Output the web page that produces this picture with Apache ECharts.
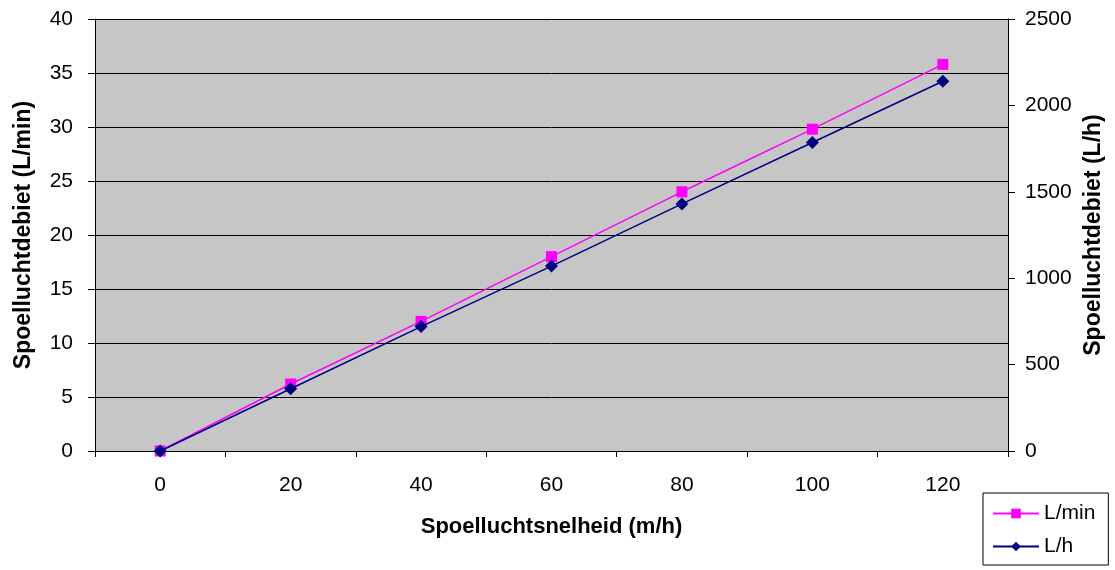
<!DOCTYPE html>
<html>
<head>
<meta charset="utf-8">
<title>Spoelluchtdebiet</title>
<script src="https://cdn.jsdelivr.net/npm/echarts@6/dist/echarts.min.js"></script>
<style>
  html, body { margin: 0; padding: 0; background: #ffffff; }
  #chart { width: 1115px; height: 570px; }
</style>
</head>
<body>
<div id="chart"></div>
<script>
// Spoelluchtsnelheid (m/h)
const speeds = ['0', '20', '40', '60', '80', '100', '120'];
// Spoelluchtdebiet in L/min (left axis)
const flowLmin = [0, 6.2, 12, 18, 24, 29.8, 35.8];
// Spoelluchtdebiet in L/h (right axis)
const flowLh = [0, 360, 720, 1070, 1430, 1785, 2140];

const font = 'Liberation Sans, Arial, sans-serif';
const black = '#000000';

const chart = echarts.init(document.getElementById('chart'), null, { renderer: 'canvas' });

chart.setOption({
  animation: false,
  backgroundColor: '#ffffff',
  textStyle: { fontFamily: font, color: black },
  grid: {
    left: 95, right: 107, top: 19, bottom: 119,
    show: true, backgroundColor: '#C6C6C6', borderWidth: 0
  },
  legend: {
    orient: 'vertical',
    left: 983, top: 493,
    width: 125, height: 76,
    padding: [10, 13, 8, 9],
    itemGap: 12,
    itemWidth: 46, itemHeight: 12,
    borderColor: black, borderWidth: 1,
    backgroundColor: '#ffffff',
    textStyle: { fontSize: 21, color: black, fontFamily: font },
    data: ['L/min', 'L/h']
  },
  xAxis: {
    type: 'category',
    data: speeds,
    boundaryGap: true,
    name: 'Spoelluchtsnelheid (m/h)',
    nameLocation: 'middle',
    nameGap: 65,
    nameTextStyle: { fontSize: 22, fontWeight: 'bold', color: black, fontFamily: font },
    axisLine: { lineStyle: { color: black, width: 1 } },
    axisTick: { show: true, length: 6, lineStyle: { color: black } },
    axisLabel: { fontSize: 21, color: black, margin: 24, fontFamily: font },
    splitLine: { show: false }
  },
  yAxis: [
    {
      type: 'value',
      min: 0, max: 40, interval: 5,
      position: 'left',
      name: 'Spoelluchtdebiet (L/min)',
      nameLocation: 'middle',
      nameGap: 60,
      nameTextStyle: { fontSize: 23, fontWeight: 'bold', color: black, fontFamily: font },
      axisLine: { show: true, lineStyle: { color: black, width: 1 } },
      axisTick: { show: true, length: 7, lineStyle: { color: black } },
      axisLabel: { fontSize: 21, color: black, margin: 22, fontFamily: font },
      splitLine: { show: true, lineStyle: { color: black, width: 1 } }
    },
    {
      type: 'value',
      min: 0, max: 2500, interval: 500,
      position: 'right',
      name: 'Spoelluchtdebiet (L/h)',
      nameLocation: 'middle',
      nameGap: 68,
      nameRotate: 90,
      nameTextStyle: { fontSize: 23, fontWeight: 'bold', color: black, fontFamily: font },
      axisLine: { show: true, lineStyle: { color: black, width: 1 } },
      axisTick: { show: true, length: 7, lineStyle: { color: black } },
      axisLabel: {
        fontSize: 21, color: black, margin: 17, fontFamily: font,
        formatter: (v) => String(v)
      },
      splitLine: { show: false }
    }
  ],
  series: [
    {
      name: 'L/min',
      type: 'line',
      yAxisIndex: 0,
      data: flowLmin,
      symbol: 'rect',
      symbolSize: 11,
      itemStyle: { color: '#FF00FF' },
      lineStyle: { color: '#FF00FF', width: 1.5 },
      z: 3
    },
    {
      name: 'L/h',
      type: 'line',
      yAxisIndex: 1,
      data: flowLh,
      symbol: 'diamond',
      symbolSize: 13,
      itemStyle: { color: '#000080' },
      lineStyle: { color: '#000080', width: 1.5 },
      z: 4
    }
  ]
});
</script>
</body>
</html>
